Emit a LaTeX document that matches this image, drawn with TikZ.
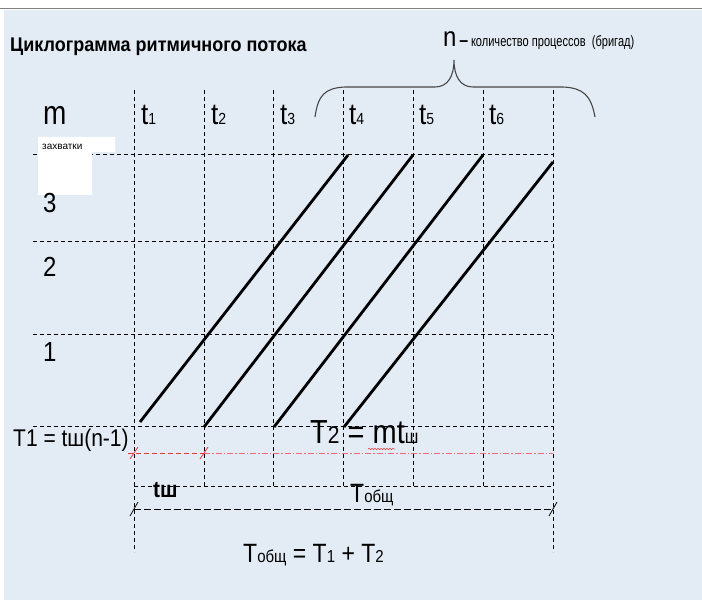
\documentclass[tikz,border=0pt]{standalone}
\usepackage{fontspec}
\setmainfont{Liberation Sans}
\usetikzlibrary{decorations.pathmorphing}
\definecolor{bg}{RGB}{227,236,245}
\definecolor{redl}{RGB}{225,60,60}
\definecolor{pinkl}{RGB}{240,105,120}
\definecolor{braceg}{RGB}{70,70,70}
\newcommand{\fsz}[1]{\fontsize{#1}{#1}\selectfont}
\newcommand{\tallt}[2][1.2]{\scalebox{1}[#1]{#2}}
\begin{document}
\begin{tikzpicture}[x=1pt,y=-1pt,
  gridline/.style={black, line width=1pt, dash pattern=on 4pt off 3pt},
  flowline/.style={black, line width=2.8pt},
  lbl/.style={inner sep=0pt, anchor=base west},
  redtick/.style={redl, line width=0.8pt},
  blacktick/.style={black, line width=0.8pt}]
\useasboundingbox (0,0) rectangle (702,607);
\fill[white] (0,0) rectangle (702,607);
\fill[bg] (4,10) rectangle (702,600);
\draw[gray, line width=1pt] (0,9) -- (702,9);

% columns
\foreach \x [count=\i from 0] in {134,204,273,343,413,483,553} {
  \coordinate (vt\i) at (\x,90);
  \coordinate (vb\i) at (\x,486);
  \coordinate (ve\i) at (\x,552);
}
\draw[gridline] (vt0) -- (ve0);
\draw[gridline] (vt6) -- (ve6);
\foreach \i in {1,...,5} { \draw[gridline] (vt\i) -- (vb\i); }

% rows
\foreach \y [count=\j from 0] in {155,241,334,426} {
  \coordinate (hl\j) at (33,\y);
  \coordinate (hr\j) at (553,\y);
  \draw[gridline] (hl\j) -- (hr\j);
}
\coordinate (tl) at (134,486);
\coordinate (tr) at (553,486);
\draw[gridline] (tl) -- (tr);

% white box
\fill[white] (38,137) -- (115,137) -- (115,152) -- (92,152) -- (92,195) -- (38,195) -- cycle;

% flow lines
\coordinate (d1s) at (140,422); \coordinate (d1e) at (348,155);
\coordinate (d2s) at (204,427); \coordinate (d2e) at (413,155);
\coordinate (d3s) at (274,427); \coordinate (d3e) at (483,155);
\coordinate (d4s) at (344,427); \coordinate (d4e) at (553,162);
\foreach \k in {1,...,4} { \draw[flowline] (d\k s) -- (d\k e); }

% red line
\coordinate (r0) at (128,453);
\coordinate (r1) at (204,453);
\coordinate (r2) at (553,453);
\draw[redl, line width=0.9pt, dash pattern=on 5pt off 3pt] (r0) -- (r1);
\draw[pinkl, line width=0.9pt, dash pattern=on 6pt off 2pt on 1.5pt off 2pt] (r1) -- (r2);
\draw[redtick] ([shift={(-4,6)}]vt0 |- r0) -- ([shift={(4,-6)}]vt0 |- r0);
\draw[redtick] ([shift={(-4,6)}]r1) -- ([shift={(4,-6)}]r1);

% dimension line
\coordinate (m0) at (134,509);
\coordinate (m1) at (553,509);
\draw[black, line width=1pt, dash pattern=on 7pt off 3pt] (m0) -- (m1);
\draw[blacktick] ([shift={(-4,7)}]m0) -- ([shift={(4,-7)}]m0);
\draw[blacktick] ([shift={(-4,7)}]m1) -- ([shift={(4,-7)}]m1);

% brace
\draw[braceg, line width=1.1pt] (315,117) .. controls (318,95) and (325,88) .. (345,87)
  -- (435,87) .. controls (448,87) and (454,76) .. (454,60)
  .. controls (454,76) and (460,87) .. (473,87)
  -- (563,87) .. controls (583,88) and (591,95) .. (595,117);

% texts
\node[lbl] (title) at (10,52) {\tallt[1.1]{\fsz{18}\bfseries Циклограмма ритмичного потока}};
\node[lbl] (nlab) at (443,47) {\tallt[1.15]{{\fsz{24}n} {\fsz{16}\bfseries –} \scalebox{0.85}[1]{\fsz{13}количество процессов\ \ (бригад)}}};
\node[lbl] (mlab) at (43,125) {\tallt[1.2]{\fsz{28}m}};
\foreach \x/\n in {141/1,211/2,280/3,349/4,419/5,489/6} {
  \node[lbl] (tlab\n) at (\x,125) {\tallt[1.15]{\fsz{26}t{\fsz{14}\n}}};
}
\node[lbl] (zah) at (42,150) {\fsz{10}захватки};
\node[lbl] (row3) at (43,213) {\tallt[1.15]{\fsz{24}3}};
\node[lbl] (row2) at (43,276) {\tallt[1.15]{\fsz{24}2}};
\node[lbl] (row1) at (43,361) {\tallt[1.15]{\fsz{24}1}};
\node[lbl] (T1eq) at (13,446) {\tallt[1.15]{\fsz{21}T1 = tш(n-1)}};
\node[lbl] (T2eq) at (310,443) {\tallt[1.15]{\fsz{29}T{\fsz{21}2} = mt{\fsz{17}ш}}};
\node[lbl] (tsh) at (153,497) {\tallt[1.1]{\fsz{21}\bfseries tш}};
\node[lbl] (Tob) at (350,502) {\tallt[1.15]{\fsz{23}T{\fsz{15}общ}}};
\node[lbl] (Tsum) at (243,562) {\tallt[1.15]{\fsz{23}T{\fsz{15}общ} = T{\fsz{15}1} + T{\fsz{15}2}}};
\coordinate (w0) at (368,449);
\coordinate (w1) at (395,449);
\draw[redl, line width=0.5pt, decorate, decoration={snake, amplitude=0.8pt, segment length=3pt}] (w0) -- (w1);
\end{tikzpicture}
\end{document}
